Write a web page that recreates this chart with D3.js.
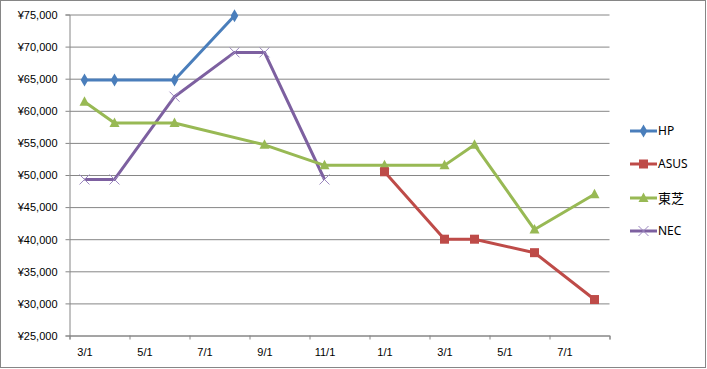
<!DOCTYPE html>
<html lang="ja">
<head>
<meta charset="UTF-8">
<title>価格推移</title>
<style>
  body { margin: 0; background: #fff; }
  svg { display: block; font-family: "Noto Sans", "Noto Sans CJK JP", sans-serif; }
  .axis path, .axis line { stroke: #868686; }
  .axis text { fill: #000; font-size: 11px; }
</style>
</head>
<body>
<svg width="707" height="369"></svg>
<script src="https://cdn.jsdelivr.net/npm/d3@7"></script>
<script>
// 月ごと（3/1 ～ 翌年8/1）
var months = ["3/1","4/1","5/1","6/1","7/1","8/1","9/1","10/1","11/1","12/1",
              "1/1","2/1","3/1","4/1","5/1","6/1","7/1","8/1"];
var yTicks = [25000,30000,35000,40000,45000,50000,55000,60000,65000,70000,75000];

var seriesNames = ["HP","ASUS","東芝","NEC"];
var hp      = [64800,64800,null,64800,null,74800,null,null,null,null,null,null,null,null,null,null,null,null];
var asus    = [null,null,null,null,null,null,null,null,null,null,50500,null,40000,40000,null,37900,null,30600];
var toshiba = [61400,58100,null,58100,null,null,54700,null,51500,null,51500,null,51500,54700,null,41500,null,47000];
var nec     = [49300,49300,null,62200,null,69100,69100,null,49300,null,null,null,null,null,null,null,null,null];

var colors = ["#4A7EBB","#BE4B48","#98B954","#7D60A0"];
var shapes = ["diamond","square","triangle","cross"];

var svg = d3.select("svg");

// 外枠
svg.append("rect")
  .attr("x",0.5).attr("y",0.5).attr("width",705).attr("height",367)
  .attr("fill","#fff").attr("stroke","#868686");

var pLeft = 69.5, pRight = 609.5, pTop = 14.5, pBottom = 335.5;

var x = d3.scaleLinear().domain([0, months.length]).range([pLeft, pRight]);
var y = d3.scaleLinear().domain([25000, 75000]).range([pBottom, pTop]);

// 目盛線
svg.append("g")
  .attr("class","axis grid")
  .attr("transform","translate("+pLeft+",0)")
  .call(d3.axisLeft(y).tickValues(yTicks).tickSize(-(pRight-pLeft)).tickFormat(""))
  .call(function(g){ g.select(".domain").remove(); });

// 縦軸
svg.append("g")
  .attr("class","axis")
  .attr("transform","translate("+pLeft+",0)")
  .call(d3.axisLeft(y).tickValues(yTicks).tickSize(4).tickPadding(8)
    .tickFormat(function(d){ return "¥" + d3.format(",")(d); }))
  .selectAll("text").attr("dy","0.35em");

// 横軸（目盛）
var tickIdx = d3.range(0, months.length + 1, 2);
svg.append("g")
  .attr("class","axis")
  .attr("transform","translate(0,"+pBottom+")")
  .call(d3.axisBottom(x).tickValues(tickIdx).tickSize(4).tickFormat(""));

// 横軸（ラベル）
var labelIdx = d3.range(0, months.length, 2);
var xl = svg.append("g")
  .attr("class","axis")
  .attr("transform","translate(0,"+pBottom+")")
  .call(d3.axisBottom(x).tickValues(labelIdx.map(function(i){ return i + 0.5; }))
    .tickSize(0).tickPadding(13)
    .tickFormat(function(d){ return months[Math.floor(d)]; }));
xl.select(".domain").remove();

var line = d3.line()
  .x(function(d){ return x(d.i + 0.5); })
  .y(function(d){ return y(d.v); });

function marker(g, shape, color) {
  if (shape === "diamond") {
    g.append("path").attr("d", d3.symbol(d3.symbolDiamond, 50)()).attr("fill", color);
  } else if (shape === "square") {
    g.append("rect").attr("x",-4.5).attr("y",-4.5).attr("width",9).attr("height",9).attr("fill", color);
  } else if (shape === "triangle") {
    g.append("path").attr("d","M0,-5.5L5,4L-5,4Z").attr("fill", color);
  } else {
    g.append("path").attr("d","M-5,-5L5,5M-5,5L5,-5")
      .attr("stroke","#9C88C0").attr("stroke-width",1).attr("fill","none");
  }
}

var allSeries = [hp, asus, toshiba, nec];
// 描画順: NEC, 東芝, ASUS, HP の順で重ねる
[3,2,1,0].forEach(function(k){
  var pts = allSeries[k].map(function(v,i){ return {i:i, v:v}; })
    .filter(function(d){ return d.v !== null; });
  svg.append("path")
    .datum(pts)
    .attr("d", line)
    .attr("fill","none")
    .attr("stroke", colors[k])
    .attr("stroke-width", 3)
    .attr("stroke-linejoin","round");
  svg.append("g").selectAll("g")
    .data(pts).enter().append("g")
    .attr("transform", function(d){ return "translate("+x(d.i+0.5)+","+y(d.v)+")"; })
    .each(function(){ marker(d3.select(this), shapes[k], colors[k]); });
});

// 凡例
var legendY = [131, 164, 198, 231];
var lg = svg.append("g");
seriesNames.forEach(function(name, k){
  var g = lg.append("g").attr("transform","translate(630,"+legendY[k]+")");
  g.append("line").attr("x1",0).attr("x2",27).attr("y1",0).attr("y2",0)
    .attr("stroke", colors[k]).attr("stroke-width",3);
  var m = g.append("g").attr("transform","translate(13.5,0)");
  marker(m, shapes[k], colors[k]);
  g.append("text").attr("x",28).attr("y",0).attr("dy","0.35em")
    .attr("font-size", k === 2 ? 13 : 12).attr("fill","#000").text(name);
});
</script>
</body>
</html>
